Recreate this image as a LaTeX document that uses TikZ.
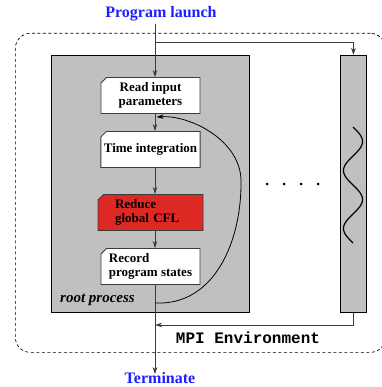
\documentclass[tikz,border=0pt]{standalone}
\usepackage{fontspec}
\setmainfont{Liberation Serif}
\setmonofont{Liberation Mono}
\usetikzlibrary{arrows.meta,shapes.misc}
\definecolor{procgray}{RGB}{192,192,192}
\definecolor{cflred}{RGB}{222,40,36}
\definecolor{lineg}{RGB}{60,60,60}
\definecolor{titleblue}{RGB}{30,30,255}
\begin{document}
\begin{tikzpicture}[x=1pt,y=-1pt,
  ln/.style={draw=lineg,line width=0.8pt},
  arr/.style={ln,-{Stealth[length=7pt,width=4.5pt,inset=2pt]}},
  stepbox/.style={chamfered rectangle, chamfered rectangle corners=north west,
    chamfered rectangle xsep=3pt, chamfered rectangle ysep=2.5pt,
    draw=lineg, line width=0.8pt, fill=white,
    minimum width=99pt, minimum height=36pt, inner sep=0pt,
    font=\fontsize{13}{14.5}\selectfont\bfseries},
  proc/.style={draw=black, line width=0.8pt, fill=procgray, inner sep=0pt, anchor=north west},
  endlabel/.style={font=\fontsize{16}{18}\selectfont\bfseries, text=titleblue, inner sep=0pt}
]
\useasboundingbox (0,0) rectangle (381,387);

% environment
\node[draw=black, line width=0.7pt, dash pattern=on 3pt off 2.5pt, rounded corners=15pt,
      minimum width=370pt, minimum height=319pt, anchor=north west, inner sep=0pt] (env) at (15,33) {};

% processes
\node[proc, minimum width=198pt, minimum height=257pt] (root) at (51,55) {};
\node[proc, minimum width=26pt, minimum height=257pt] (col) at (340,55) {};
\node[anchor=base west, inner sep=0pt, font=\fontsize{15}{17}\selectfont\bfseries\itshape] (rootlbl) at (60,302) {root process};

% steps
\node[stepbox, align=center] (read) at (150.5,95.5) {Read input\\parameters};
\node[stepbox, align=center] (time) at (150.5,149.5) {Time integration};
\node[stepbox, fill=cflred, align=left, text width=71pt, inner xsep=14pt] (cfl) at (150.5,212.5) {Reduce\\global CFL};
\node[stepbox, align=left] (record) at (150.5,266.5) {Record\\program states};

% labels
\node[endlabel] (launch) at (161,14) {Program launch};
\node[endlabel] (term) at (160,378) {Terminate};
\node[anchor=base, inner sep=0pt, font=\fontsize{16}{18}\selectfont\ttfamily\bfseries] (mpi) at (248,343) {MPI Environment};

% main flow
\coordinate (split) at (155,42);
\coordinate (mpij) at (155,325);
\coordinate (loopstart) at (155,303);
\coordinate (loopend) at (155,117);
\draw[ln] (launch.south -| split) ++(0,2) -- (split);
\draw[arr] (split) -- (read.north -| split);
\draw[arr] (split) -| (col.north);
\draw[arr] (read.south -| split) -- (time.north -| split);
\draw[arr] (time.south -| split) -- (cfl.north -| split);
\draw[arr] (cfl.south -| split) -- (record.north -| split);
\draw[arr] (record.south -| split) -- ([yshift=-2pt]term.north -| split);
\draw[arr] (col.south) |- (mpij);

% loop
\draw[arr, draw=black] (loopstart) .. controls (215,306) and (242,240) .. (241,180)
   .. controls (240,140) and (190,115) .. ([xshift=1.5pt]loopend);

% dots
\foreach \dx [count=\i] in {267,284,301,318}
  \fill (\dx,184) circle (1.5pt);

% wave
\draw[line width=1.2pt] plot[domain=0:116, samples=90, smooth] ({353+9.5*sin(\x*6.2069)},{127+\x});
\end{tikzpicture}
\end{document}
